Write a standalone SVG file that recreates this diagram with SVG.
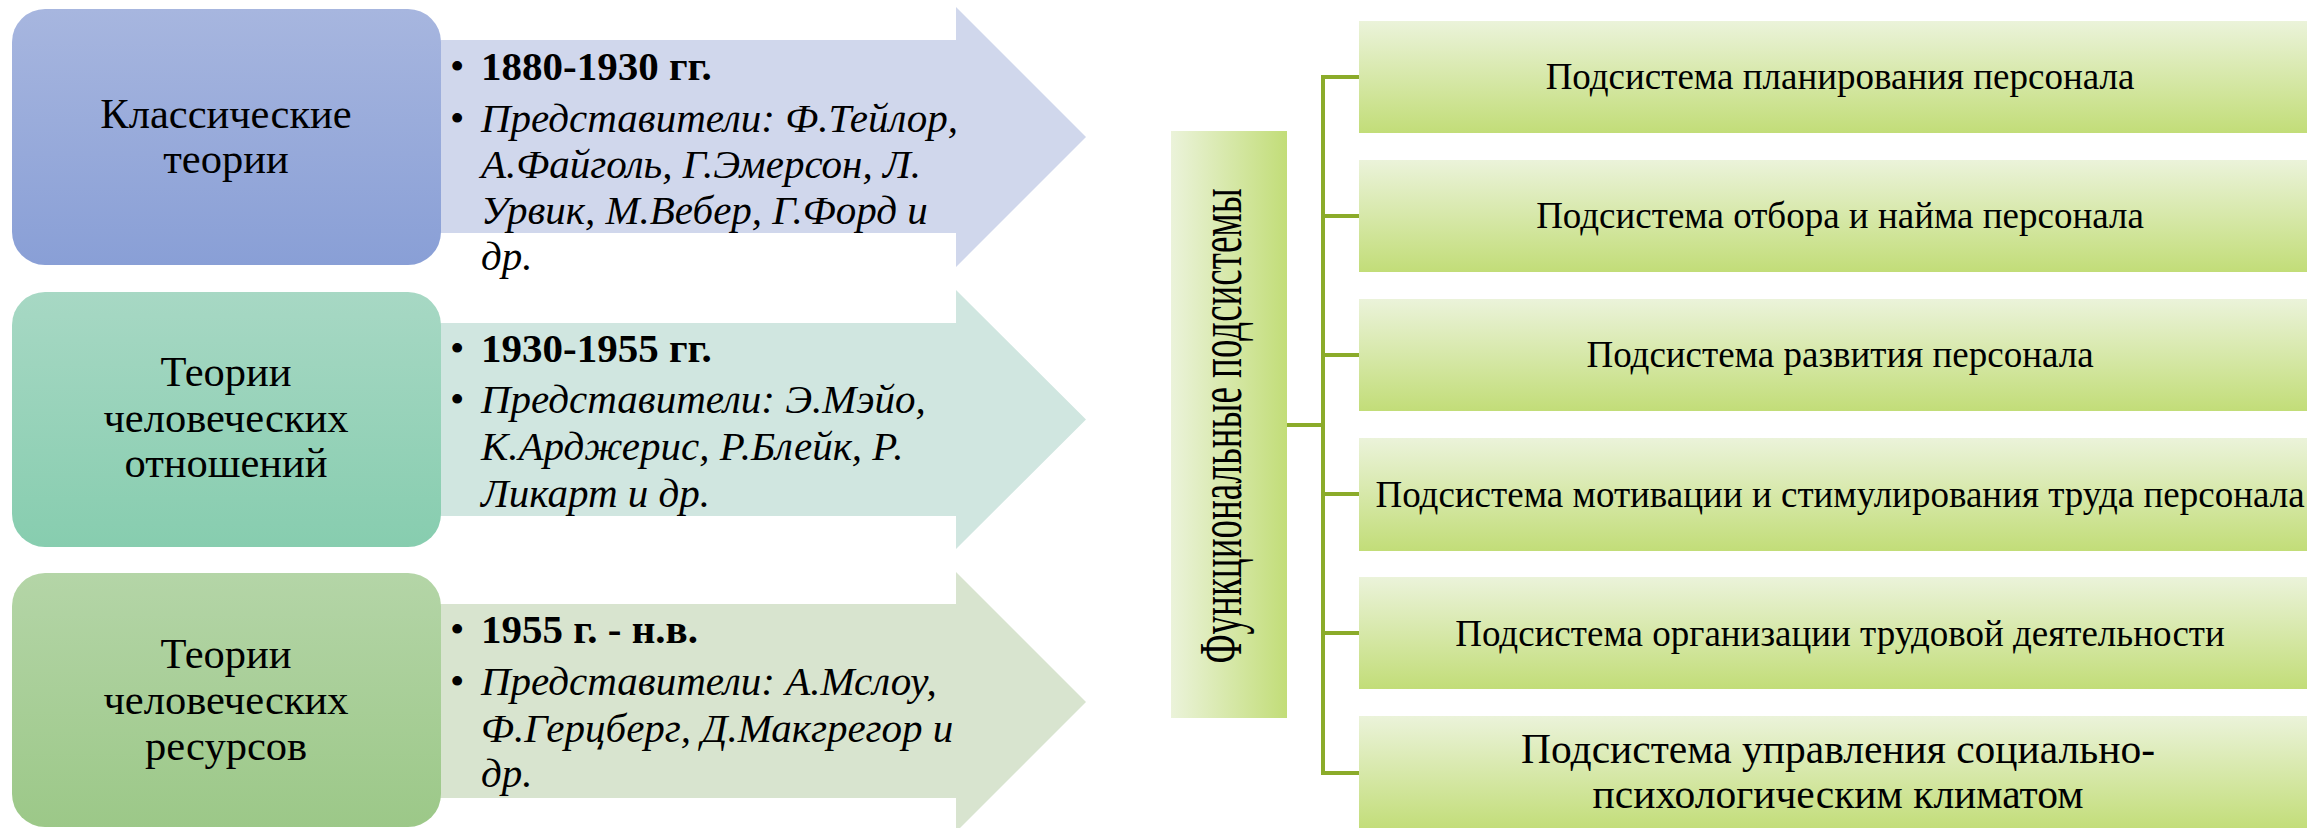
<svg xmlns="http://www.w3.org/2000/svg" width="2307" height="828" viewBox="0 0 2307 828">
<defs>
<linearGradient id="gBlue" x1="0" y1="0" x2="0" y2="1"><stop offset="0" stop-color="#A7B6DF"/><stop offset="1" stop-color="#899FD6"/></linearGradient>
<linearGradient id="gTeal" x1="0" y1="0" x2="0" y2="1"><stop offset="0" stop-color="#A7D8C4"/><stop offset="1" stop-color="#87CDAF"/></linearGradient>
<linearGradient id="gGreen" x1="0" y1="0" x2="0" y2="1"><stop offset="0" stop-color="#B4D5A7"/><stop offset="1" stop-color="#9CC888"/></linearGradient>
<linearGradient id="gLime" x1="0" y1="0" x2="0" y2="1"><stop offset="0" stop-color="#EBF3DA"/><stop offset="1" stop-color="#C2DD78"/></linearGradient>
<linearGradient id="gLimeH" x1="0" y1="0" x2="1" y2="0"><stop offset="0" stop-color="#EBF3DA"/><stop offset="1" stop-color="#C2DD78"/></linearGradient>
<style>
text{font-family:"Liberation Serif","Times New Roman",serif;fill:#000}
.bt{font-size:42.5px;text-anchor:middle}
.yr{font-size:41px;font-weight:bold}
.rp{font-size:41px;font-style:italic}
.bl{font-size:41px}
.rt{font-size:37px;text-anchor:middle}
.rt2{font-size:41.5px;text-anchor:middle}
.conn{stroke:#8BAB2A;stroke-width:4;fill:none}
</style>
</defs>
<rect width="2307" height="828" fill="#FFFFFF"/>

<g id="row1">
<path d="M300,40 H956 V7 L1086,137 L956,267 V233 H300 Z" fill="#D0D7EC"/>
<rect x="12" y="9" width="429" height="256" rx="33" ry="33" fill="url(#gBlue)"/>
<text class="bt" x="226" y="128">Классические</text>
<text class="bt" x="226" y="173">теории</text>
<text class="bl" x="450" y="80">•</text>
<text class="yr" x="481" y="80">1880-1930 гг.</text>
<text class="bl" x="450" y="132">•</text>
<text class="rp" x="481" y="132">Представители: Ф.Тейлор,</text>
<text class="rp" x="481" y="178">А.Файголь, Г.Эмерсон, Л.</text>
<text class="rp" x="481" y="224">Урвик, М.Вебер, Г.Форд и</text>
<text class="rp" x="481" y="270">др.</text>
</g>

<g id="row2">
<path d="M300,323 H956 V290 L1086,419.5 L956,549 V516 H300 Z" fill="#D0E6E0"/>
<rect x="12" y="292" width="429" height="255" rx="33" ry="33" fill="url(#gTeal)"/>
<text class="bt" x="226" y="386">Теории</text>
<text class="bt" x="226" y="432">человеческих</text>
<text class="bt" x="226" y="477">отношений</text>
<text class="bl" x="450" y="362">•</text>
<text class="yr" x="481" y="362">1930-1955 гг.</text>
<text class="bl" x="450" y="413">•</text>
<text class="rp" x="481" y="413">Представители: Э.Мэйо,</text>
<text class="rp" x="481" y="460">К.Арджерис, Р.Блейк, Р.</text>
<text class="rp" x="481" y="507">Ликарт и др.</text>
</g>

<g id="row3">
<path d="M300,604 H956 V572 L1086,702 L956,832 V798 H300 Z" fill="#D8E4CF"/>
<rect x="12" y="573" width="429" height="254" rx="33" ry="33" fill="url(#gGreen)"/>
<text class="bt" x="226" y="668">Теории</text>
<text class="bt" x="226" y="714">человеческих</text>
<text class="bt" x="226" y="760">ресурсов</text>
<text class="bl" x="450" y="643">•</text>
<text class="yr" x="481" y="643">1955 г. - н.в.</text>
<text class="bl" x="450" y="695">•</text>
<text class="rp" x="481" y="695">Представители: А.Мслоу,</text>
<text class="rp" x="481" y="742">Ф.Герцберг, Д.Макгрегор и</text>
<text class="rp" x="481" y="787">др.</text>
</g>

<g id="connectors">
<path class="conn" d="M1323,75 V775"/>
<path class="conn" d="M1287,425 H1323"/>
<path class="conn" d="M1321,77 H1359"/>
<path class="conn" d="M1321,216 H1359"/>
<path class="conn" d="M1321,355 H1359"/>
<path class="conn" d="M1321,494 H1359"/>
<path class="conn" d="M1321,633 H1359"/>
<path class="conn" d="M1321,773 H1359"/>
</g>

<g id="functional">
<rect x="1171" y="131" width="116" height="587" fill="url(#gLimeH)"/>
<text transform="translate(1241,426) rotate(-90) scale(1,1.63)" style="font-size:37px;text-anchor:middle">Функциональные подсистемы</text>
</g>

<g id="sub1">
<rect x="1359" y="21" width="962" height="112" fill="url(#gLime)"/>
<text class="rt" x="1840" y="89">Подсистема планирования персонала</text>
</g>
<g id="sub2">
<rect x="1359" y="160" width="962" height="112" fill="url(#gLime)"/>
<text class="rt" x="1840" y="228">Подсистема отбора и найма персонала</text>
</g>
<g id="sub3">
<rect x="1359" y="299" width="962" height="112" fill="url(#gLime)"/>
<text class="rt" x="1840" y="367">Подсистема развития персонала</text>
</g>
<g id="sub4">
<rect x="1359" y="438" width="962" height="113" fill="url(#gLime)"/>
<text class="rt" x="1840" y="507">Подсистема мотивации и стимулирования труда персонала</text>
</g>
<g id="sub5">
<rect x="1359" y="577" width="962" height="112" fill="url(#gLime)"/>
<text class="rt" x="1840" y="646">Подсистема организации трудовой деятельности</text>
</g>
<g id="sub6">
<rect x="1359" y="716" width="962" height="114" fill="url(#gLime)"/>
<text class="rt2" x="1838" y="763">Подсистема управления социально-</text>
<text class="rt2" x="1838" y="808">психологическим климатом</text>
</g>
</svg>
